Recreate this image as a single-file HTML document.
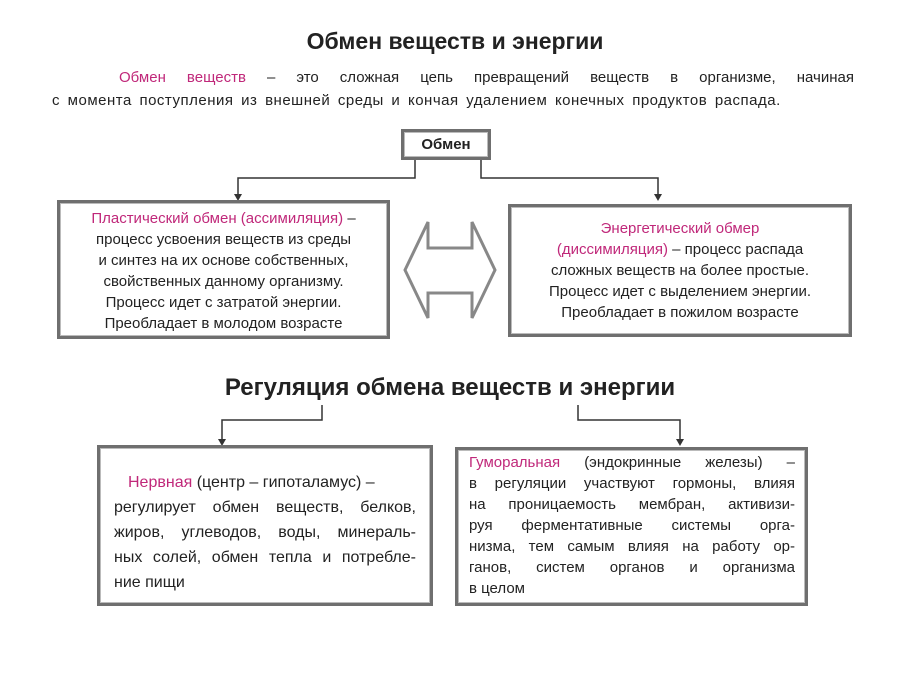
<!DOCTYPE html>
<html><head><meta charset="utf-8"><style>
body{margin:0;width:910px;height:683px;background:#fff;position:relative;font-family:"Liberation Sans",sans-serif;color:#222;overflow:hidden}
.a{position:absolute}
.box{position:absolute;border:3px solid #6f6f6f;box-shadow:inset 0 0 0 1px #bbb;box-sizing:border-box;background:#fff}
.m{color:#c0287a}
.c{text-align:center}
.j{text-align:justify;text-align-last:justify;white-space:nowrap}
.j div{text-align:justify;text-align-last:justify}
.l{text-align:left!important;text-align-last:left!important}
</style></head><body>
<div class="a c" style="left:0;width:910px;top:28px;font-size:23px;font-weight:bold">Обмен веществ и энергии</div>
<div class="a" style="left:52px;width:802px;top:66px;font-size:15px;line-height:23px">
<div style="padding-left:67px;text-align:justify;text-align-last:justify"><span class="m">Обмен веществ</span> – это сложная цепь превращений веществ в организме, начиная</div>
<div style="letter-spacing:0.5px;word-spacing:3px">с момента поступления из внешней среды и кончая удалением конечных продуктов распада.</div></div>
<svg class="a" style="left:0;top:0" width="910" height="683">
<g fill="none" stroke="#333" stroke-width="1.5">
<path d="M415 159V178H238V197"/><path d="M481 159V178H658V197"/>
<path d="M322 405V420H222V442"/><path d="M578 405V420H680V442"/>
</g>
<g fill="#333"><path d="M234 194h8l-4 7z"/><path d="M654 194h8l-4 7z"/><path d="M218 439h8l-4 7z"/><path d="M676 439h8l-4 7z"/></g>
<path d="M405 270L428 222V248H472V222L495 270L472 318V293H428V318Z" fill="#fff" stroke="#888" stroke-width="3"/>
</svg>
<div class="box c" style="left:401px;top:129px;width:90px;height:31px;font-weight:bold;font-size:15px;line-height:25px">Обмен</div>
<div class="box c" style="left:57px;top:200px;width:333px;height:139px;font-size:15px;line-height:21px;padding-top:5px">
<span class="m">Пластический обмен (ассимиляция)</span> –<br>процесс усвоения веществ из среды<br>и синтез на их основе собственных,<br>свойственных данному организму.<br>Процесс идет с затратой энергии.<br>Преобладает в молодом возрасте</div>
<div class="box c" style="left:508px;top:204px;width:344px;height:133px;font-size:15px;line-height:21px;padding-top:11px">
<span class="m">Энергетический обмер</span><br><span class="m">(диссимиляция)</span> – процесс распада<br>сложных веществ на более простые.<br>Процесс идет с выделением энергии.<br>Преобладает в пожилом возрасте</div>
<div class="a c" style="left:0;width:900px;top:374px;font-size:24px;font-weight:bold">Регуляция обмена веществ и энергии</div>
<div class="box j" style="left:97px;top:445px;width:336px;height:161px;font-size:16px;line-height:25px;padding:22px 14px 0 14px">
<div class="l" style="padding-left:14px"><span class="m">Нервная</span> (центр – гипоталамус) –</div>
<div>регулирует обмен веществ, белков,</div>
<div>жиров, углеводов, воды, минераль-</div>
<div>ных солей, обмен тепла и потребле-</div>
<div class="l">ние пищи</div></div>
<div class="box j" style="left:455px;top:447px;width:353px;height:159px;font-size:15px;line-height:21px;padding:2px 10px 0 11px">
<div><span class="m">Гуморальная</span> (эндокринные железы) –</div>
<div>в регуляции участвуют гормоны, влияя</div>
<div>на проницаемость мембран, активизи-</div>
<div>руя ферментативные системы орга-</div>
<div>низма, тем самым влияя на работу ор-</div>
<div>ганов, систем органов и организма</div>
<div class="l">в целом</div></div>
</body></html>
